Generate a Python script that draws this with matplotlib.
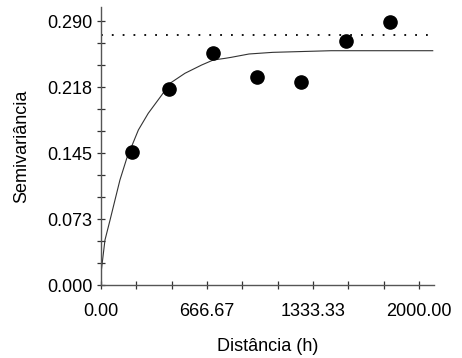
import matplotlib.pyplot as plt
from matplotlib.ticker import MultipleLocator

plt.rcParams['font.family'] = ['Liberation Sans', 'DejaVu Sans']

# semivariograma experimental
dist = [193, 426, 706, 981, 1256, 1541, 1818]
semiv = [0.1458, 0.2153, 0.2552, 0.2285, 0.2230, 0.2680, 0.2889]

# modelo ajustado
model_h = [0, 25, 57, 88, 119, 162, 235, 297, 382, 434, 528, 633, 706,
           780, 818, 931, 1080, 1447, 2086]
model_g = [0.0129, 0.0494, 0.0714, 0.0934, 0.1153, 0.1392, 0.1703, 0.1886,
           0.2087, 0.2216, 0.2326, 0.2417, 0.2472, 0.2490, 0.2501, 0.2538,
           0.2556, 0.2574, 0.2574]

variancia = 0.2750

xticks = [0, 666.67, 1333.33, 2000]
xlabels = ['0.00', '666.67', '1333.33', '2000.00']
yticks = [0, 0.0725, 0.145, 0.2175, 0.29]
ylabels = ['0.000', '0.073', '0.145', '0.218', '0.290']

fig = plt.figure(figsize=(4.62, 3.58), dpi=100)
ax = fig.add_axes([0.2186, 0.2039, 0.7208, 0.7765])

ax.plot(model_h, model_g, color='#333333', lw=0.8)
ax.axhline(variancia, color='black', lw=1.3, linestyle=(0, (1, 5)))
ax.plot(dist, semiv, 'o', color='black', ms=9.5)

ax.set_xlim(0, 2094)
ax.set_ylim(0, 0.3054)

ax.set_xticks(xticks, xlabels)
ax.set_yticks(yticks, ylabels)
ax.xaxis.set_minor_locator(MultipleLocator(2000 / 9))
ax.yaxis.set_minor_locator(MultipleLocator(0.29 / 12))

for s in ['top', 'right']:
    ax.spines[s].set_visible(False)
for s in ['left', 'bottom']:
    ax.spines[s].set_color('#555555')
    ax.spines[s].set_linewidth(1.0)

ax.tick_params(which='both', direction='inout', length=6, width=0.9,
               color='#333333', labelsize=13)
ax.tick_params(axis='x', pad=10)
ax.tick_params(axis='y', pad=3)

ax.set_xlabel('Distância (h)', fontsize=13, labelpad=13)
ax.set_ylabel('Semivariância', fontsize=13, labelpad=12)

fig.savefig('out.png', dpi=100)
